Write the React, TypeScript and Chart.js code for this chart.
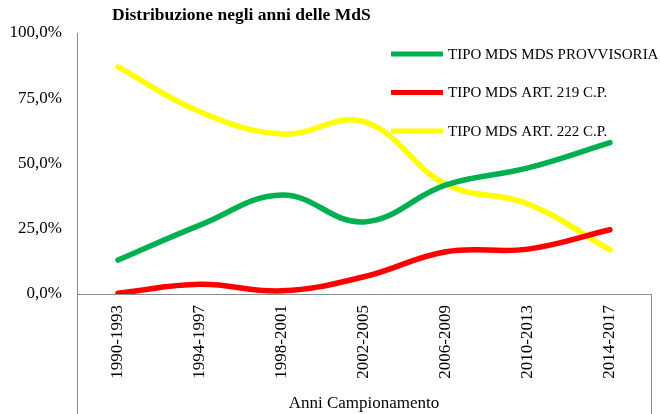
import React, { useEffect, useRef } from 'react';
import { Chart, registerables } from 'chart.js';

Chart.register(...registerables);

const categories = ['1990-1993', '1994-1997', '1998-2001', '2002-2005', '2006-2009', '2010-2013', '2014-2017'];
const provvisoria = [13.0, 26.4, 37.9, 27.6, 41.8, 48.3, 58.0];
const art219 = [0.3, 3.7, 1.2, 6.6, 16.2, 17.2, 24.6];
const art222 = [87.0, 69.8, 61.3, 66.0, 42.0, 34.5, 16.9];
const seriesLabels = ['TIPO MDS MDS PROVVISORIA', 'TIPO MDS ART. 219 C.P.', 'TIPO MDS ART. 222 C.P.'];
const seriesColors = ['#00B050', '#FF0000', '#FFFF00'];
const chartTitle = 'Distribuzione negli anni delle MdS';
const xAxisTitle = 'Anni Campionamento';

const SERIF = '"Liberation Serif", "Times New Roman", serif';

const framePlugin = {
  id: 'frameLines',
  afterDraw(chart: any) {
    const { ctx, chartArea } = chart;
    const h = chart.height;
    ctx.save();
    ctx.strokeStyle = '#8c8c8c';
    ctx.lineWidth = 1;
    ctx.beginPath();
    ctx.moveTo(chartArea.left + 0.5, chartArea.bottom);
    ctx.lineTo(chartArea.left + 0.5, h);
    ctx.moveTo(chartArea.right + 0.5, chartArea.bottom);
    ctx.lineTo(chartArea.right + 0.5, h);
    ctx.stroke();
    ctx.restore();
  },
};

const titlePlugin = {
  id: 'customTitle',
  afterDraw(chart: any) {
    const { ctx } = chart;
    ctx.save();
    ctx.font = `bold 17.5px ${SERIF}`;
    ctx.fillStyle = '#000';
    ctx.textBaseline = 'alphabetic';
    ctx.textAlign = 'left';
    ctx.fillText(chartTitle, 112, 19.5);
    ctx.restore();
  },
};

const legendPlugin = {
  id: 'insideLegend',
  afterDatasetsDraw(chart: any) {
    const { ctx, chartArea } = chart;
    const x0 = chartArea.left + 314;
    const lineLen = 52;
    const y0 = 54;
    const rowH = 38.5;
    ctx.save();
    ctx.font = `15px ${SERIF}`;
    ctx.textBaseline = 'middle';
    ctx.textAlign = 'left';
    chart.data.datasets.forEach((ds: any, i: number) => {
      const y = y0 + i * rowH;
      ctx.strokeStyle = ds.borderColor;
      ctx.lineWidth = 5;
      ctx.lineCap = 'butt';
      ctx.beginPath();
      ctx.moveTo(x0, y);
      ctx.lineTo(x0 + lineLen, y);
      ctx.stroke();
      ctx.fillStyle = '#000';
      ctx.fillText(ds.label, x0 + lineLen + 5, y + 1);
    });
    ctx.restore();
  },
};

export default function App() {
  const ref = useRef<HTMLCanvasElement>(null);
  useEffect(() => {
    if (!ref.current) return;
    const series = [provvisoria, art219, art222];
    const chart = new Chart(ref.current, {
      type: 'line',
      data: {
        labels: categories,
        datasets: series.map((d, i) => ({
          label: seriesLabels[i],
          data: d,
          borderColor: seriesColors[i],
          backgroundColor: seriesColors[i],
          borderWidth: 5.5,
          tension: 0.4,
          pointRadius: 0,
          borderCapStyle: 'round' as const,
          borderJoinStyle: 'round' as const,
          fill: false,
        })),
      },
      options: {
        responsive: false,
        animation: false,
        layout: { padding: { left: 0, top: 33, right: 9, bottom: 0 } },
        plugins: {
          legend: { display: false },
          title: { display: false },
          tooltip: { enabled: false },
        },
        scales: {
          x: {
            type: 'category',
            offset: true,
            grid: { display: false, drawTicks: false },
            border: { display: true, color: '#8c8c8c', width: 1 },
            ticks: {
              minRotation: 90,
              maxRotation: 90,
              padding: 11,
              color: '#000',
              font: { family: SERIF, size: 17 },
            },
            title: {
              display: true,
              text: xAxisTitle,
              color: '#000',
              font: { family: SERIF, size: 17 },
              padding: { top: 0, bottom: 0 },
            },
            afterFit(scale: any) {
              scale.height = 120;
            },
          },
          y: {
            min: 0,
            max: 100,
            grid: { display: false, drawTicks: false },
            border: { display: true, color: '#8c8c8c', width: 1 },
            ticks: {
              stepSize: 25,
              padding: 15,
              color: '#000',
              font: { family: SERIF, size: 17 },
              callback: (v: any) => Number(v).toFixed(1).replace('.', ',') + '%',
            },
            afterFit(scale: any) {
              scale.width = 77;
            },
          },
        },
      },
      plugins: [framePlugin, titlePlugin, legendPlugin],
    });
    return () => chart.destroy();
  }, []);
  return (
    <div style={{ position: 'fixed', left: 0, top: 0, width: 660, height: 414, background: '#fff' }}>
      <canvas ref={ref} width={660} height={414} style={{ display: 'block' }} />
    </div>
  );
}
